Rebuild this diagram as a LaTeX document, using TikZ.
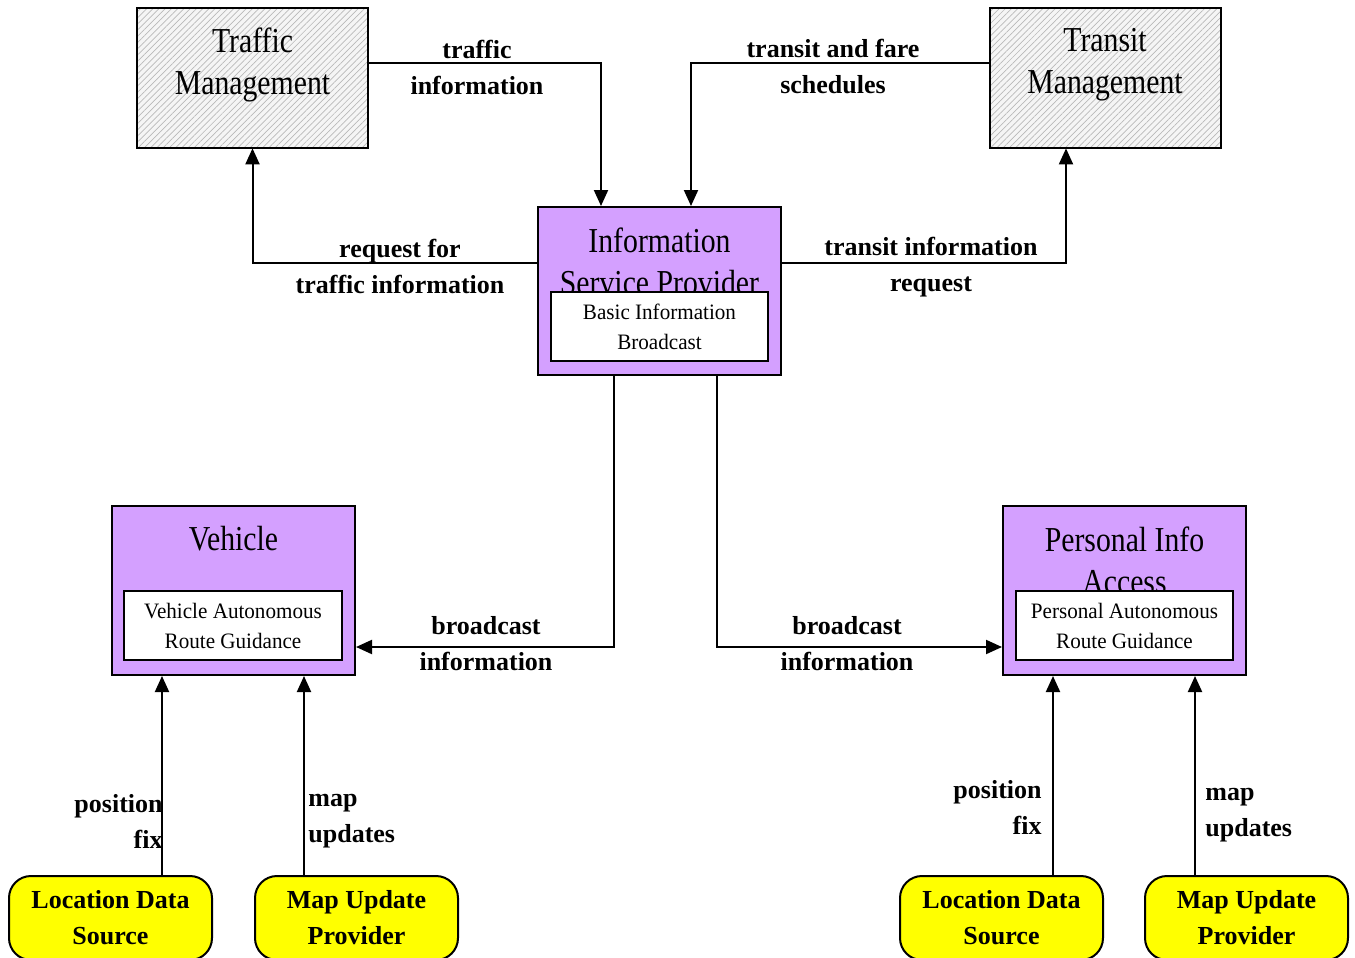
\documentclass[tikz,border=0pt]{standalone}
\usepackage{fontspec}
\setmainfont{Liberation Serif}
\newfontfamily\condfont{Liberation Serif}[FakeStretch=0.85]
\newfontfamily\innerfont{Liberation Serif}[FakeStretch=0.96]
\usetikzlibrary{arrows.meta,patterns.meta}
\definecolor{purp}{RGB}{212,160,255}
\definecolor{yel}{RGB}{255,255,0}
\tikzset{
  ext/.style={minimum width=115.5pt,minimum height=70pt,
    preaction={fill=gray!8},
    pattern={Lines[angle=45,distance=2.2pt,line width=0.35pt]},pattern color=gray!55,
    postaction={draw=black,line width=1pt}},
  sys/.style={draw=black,line width=1pt,fill=purp,minimum width=121.5pt,minimum height=84pt},
  inner/.style={draw=black,line width=1pt,fill=white,minimum width=108.5pt,minimum height=34.5pt,
    inner sep=0pt,align=center,font=\innerfont\fontsize{11}{15}\selectfont},
  title/.style={inner sep=0pt,align=center,font=\condfont\fontsize{17.5}{21}\selectfont},
  term/.style={draw=black,line width=1pt,fill=yel,rounded corners=11pt,minimum width=101.5pt,
    minimum height=42pt,inner sep=0pt,align=center,font=\bfseries\fontsize{13}{18}\selectfont},
  lbl/.style={inner sep=0pt,align=center,font=\bfseries\fontsize{13}{18}\selectfont},
  arr/.style={line width=1pt,-{Triangle[length=8pt,width=7pt]}},
}
\begin{document}
\begin{tikzpicture}[x=0.5pt,y=-0.5pt]
\useasboundingbox (0,0) rectangle (1355,958);
\clip (0,0) rectangle (1355,958);
% external boxes
\node[ext] (tm) at (252.5,78) {};
\node[title] (tmt) at (252.5,65) {Traffic\\Management};
\node[ext] (trm) at (1105,78) {};
\node[title] (trmt) at (1105,65) {Transit\\Management};
% ISP
\node[sys] (isp) at (659.5,291) {};
\node[title] (ispt) at (659.5,261) {Information\\Service Provider};
\node[inner] (ispi) at (659.5,326.5) {Basic Information\\Broadcast};
% Vehicle
\node[sys,minimum height=84.5pt] (veh) at (233.5,590.5) {};
\node[title] (veht) at (233.5,539) {Vehicle};
\node[inner,minimum width=109pt] (vehi) at (233,625.5) {Vehicle Autonomous\\Route Guidance};
% Personal Info Access
\node[sys,minimum height=84.5pt] (pia) at (1124.5,590.5) {};
\node[title] (piat) at (1124.5,560) {Personal Info\\Access};
\node[inner] (piai) at (1124.5,625.5) {Personal Autonomous\\Route Guidance};
% terminators
\node[term] (lds1) at (110.5,918) {Location Data\\Source};
\node[term] (mup1) at (356.5,918) {Map Update\\Provider};
\node[term] (lds2) at (1001.5,918) {Location Data\\Source};
\node[term] (mup2) at (1246.5,918) {Map Update\\Provider};
% connectors
\draw[arr] ([yshift=7.5pt]tm.east) -| ([xshift=-29.25pt]isp.north);
\draw[arr] ([yshift=7.5pt]trm.west) -| ([xshift=15.75pt]isp.north);
\draw[arr] ([yshift=14pt]isp.west) -| (tm.south);
\draw[arr] ([yshift=14pt]isp.east) -| ([xshift=-19.5pt]trm.south);
\draw[arr] ([xshift=-22.75pt]isp.south) |- ([yshift=-28.25pt]veh.east);
\draw[arr] ([xshift=28.75pt]isp.south) |- ([yshift=-28.25pt]pia.west);
\draw[arr] ([xshift=25.75pt]lds1.north) -- ([xshift=25.75pt]lds1.north |- veh.south);
\draw[arr] ([xshift=-26.25pt]mup1.north) -- ([xshift=-26.25pt]mup1.north |- veh.south);
\draw[arr] ([xshift=25.75pt]lds2.north) -- ([xshift=25.75pt]lds2.north |- pia.south);
\draw[arr] ([xshift=-25.75pt]mup2.north) -- ([xshift=-25.75pt]mup2.north |- pia.south);
% labels
\node[lbl] (l1) at (477,67) {traffic\\information};
\node[lbl] (l2) at (833,67) {transit and fare\\schedules};
\node[lbl] (l3) at (400,266.5) {request for\\traffic information};
\node[lbl] (l4) at (931,267) {transit information\\request};
\node[lbl] (l5) at (486,644) {broadcast\\information};
\node[lbl] (l6) at (847,644) {broadcast\\information};
\node[lbl,anchor=east,align=right] (l7) at (163,821) {position\\fix};
\node[lbl,anchor=west,align=left] (l8) at (308,821) {map\\updates};
\node[lbl,anchor=east,align=right] (l9) at (1042,807.5) {position\\fix};
\node[lbl,anchor=west,align=left] (l10) at (1205,815.5) {map\\updates};
\end{tikzpicture}
\end{document}
